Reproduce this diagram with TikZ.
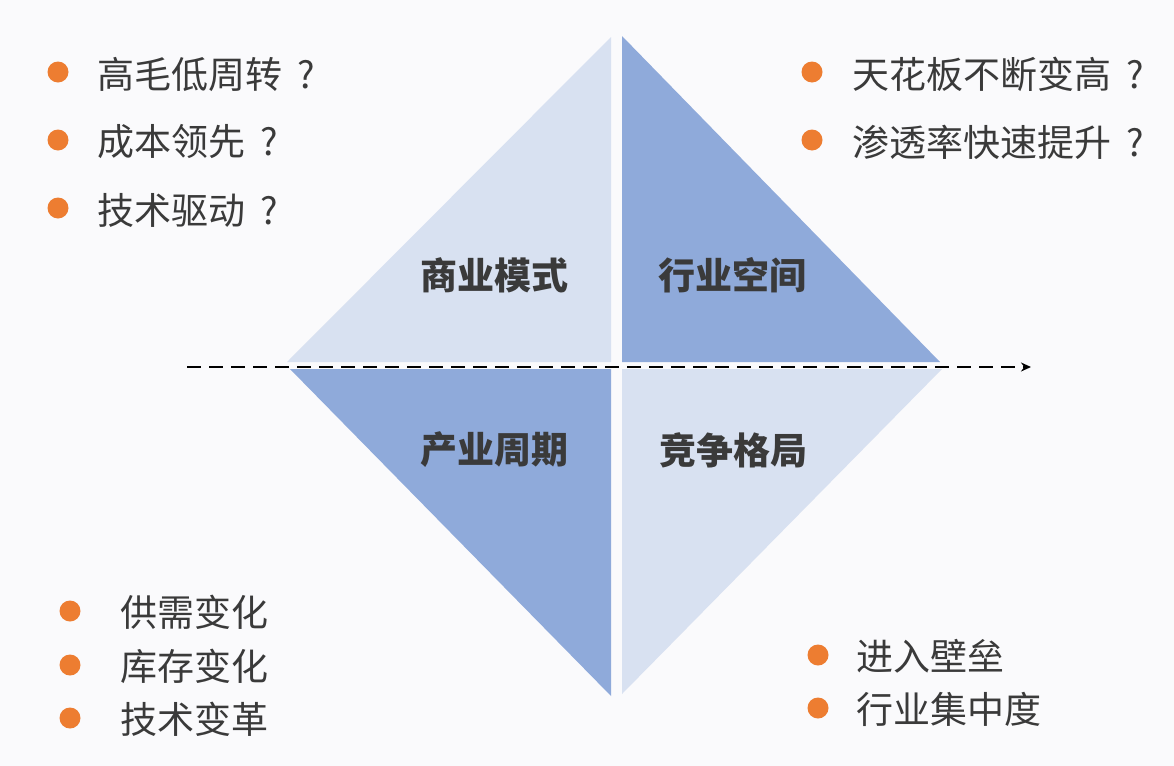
\documentclass[tikz,border=0pt]{standalone}
\usepackage{fontspec}
\newfontfamily\cjk{Noto Sans CJK SC}
\usetikzlibrary{arrows.meta}
\definecolor{lightq}{HTML}{D8E1F1}
\definecolor{darkq}{HTML}{8FAADA}
\definecolor{dotc}{HTML}{ED7D31}
\definecolor{txtc}{HTML}{3A3A3A}
\definecolor{bgc}{HTML}{FAFAFC}
\newcommand{\qmark}{\kern0.4em?}

\begin{document}
\begin{tikzpicture}[
    x=0.5pt, y=-0.5pt,
    arr/.style={-{Stealth[length=5pt, width=4.5pt]}, line width=0.9pt, dash pattern=on 7pt off 4pt},
    dot/.style={circle, fill=dotc, inner sep=0pt, minimum size=10.5pt},
    item/.style={anchor=west, inner sep=0pt, text=txtc, font=\cjk\fontsize{18.5}{22}\selectfont},
    quad/.style={text=txtc, font=\cjk\bfseries\fontsize{18.5}{22}\selectfont},
  ]
    % Background
    \fill[bgc] (0,0) rectangle (1174,766);
    \useasboundingbox (0,0) rectangle (1174,766);

    % Diamond quarters (white gaps between them)
    \fill[lightq] (287,362) -- (611,37) -- (611,362) -- cycle;
    \fill[darkq] (622,36) -- (622,362) -- (940,362) -- cycle;
    \fill[darkq] (290,369) -- (611,369) -- (611,696) -- cycle;
    \fill[lightq] (622,369) -- (942,369) -- (622,694) -- cycle;

    % Quarter labels
    \node[quad] (biz) at (494,275) {商业模式};
    \node[quad] (space) at (732,275) {行业空间};
    \node[quad] (cycle) at (494,450) {产业周期};
    \node[quad] (comp) at (733,450) {竞争格局};

    % Dashed axis
    \coordinate (axl) at (187,367);
    \coordinate (axr) at (1031,367);
    \draw[arr] (axl) -- (axr);

    % Top left list
    \node[dot] (b1) at (58,72) {};
    \node[dot] (b2) at (58,140) {};
    \node[dot] (b3) at (58,208) {};
    \node[item] (t1) at (97,74) {高毛低周转\qmark};
    \node[item] (t2) at (97,142) {成本领先\qmark};
    \node[item] (t3) at (97,210) {技术驱动\qmark};

    % Top right list
    \node[dot] (s1) at (812,72) {};
    \node[dot] (s2) at (812,140) {};
    \node[item] (u1) at (852,74) {天花板不断变高\qmark};
    \node[item] (u2) at (852,142) {渗透率快速提升\qmark};

    % Bottom left list
    \node[dot] (c1) at (70,611) {};
    \node[dot] (c2) at (70,665) {};
    \node[dot] (c3) at (70,718) {};
    \node[item] (v1) at (120,612) {供需变化};
    \node[item] (v2) at (120,666) {库存变化};
    \node[item] (v3) at (120,719) {技术变革};

    % Bottom right list
    \node[dot] (d1) at (818,655) {};
    \node[dot] (d2) at (818,708) {};
    \node[item] (w1) at (856,656) {进入壁垒};
    \node[item] (w2) at (856,709) {行业集中度};
  \end{tikzpicture}
\end{document}
